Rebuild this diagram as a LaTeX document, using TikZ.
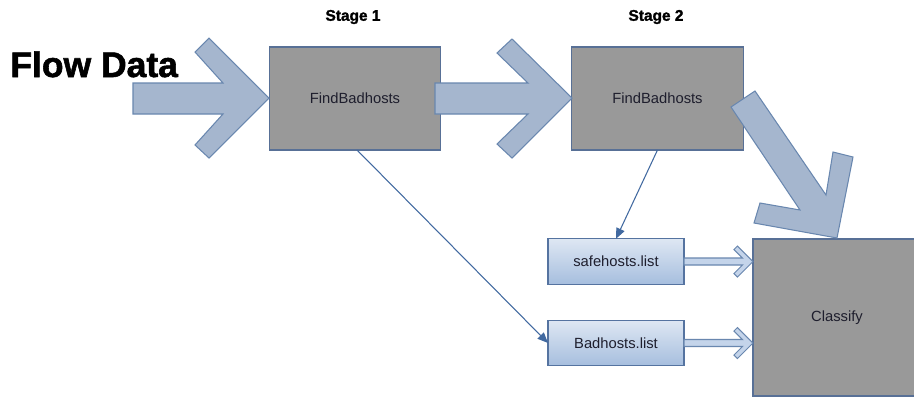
\documentclass[tikz,border=0pt]{standalone}
\usepackage{fontspec}
\setmainfont{Liberation Sans}
\newfontfamily\heavyfont{Liberation Sans Bold}[FakeBold=1.6]
\usetikzlibrary{arrows.meta}
\definecolor{boxgray}{RGB}{153,153,153}
\definecolor{boxedge}{RGB}{88,112,150}
\definecolor{bigfill}{RGB}{165,182,206}
\definecolor{bigedge}{RGB}{105,135,175}
\definecolor{listtop}{RGB}{222,231,243}
\definecolor{listbot}{RGB}{166,190,222}
\definecolor{listedge}{RGB}{85,115,160}
\definecolor{thinline}{RGB}{65,105,160}
\definecolor{hollowfill}{RGB}{196,212,234}
\definecolor{txt}{RGB}{30,30,45}
\tikzset{
  procbox/.style={draw=boxedge, fill=boxgray, line width=0.7pt, inner sep=0pt, outer sep=0pt,
    minimum width=3.43cm, minimum height=2.06cm, text=txt, font=\fontsize{8.4}{10}\selectfont},
  listbox/.style={draw=listedge, top color=listtop, bottom color=listbot, line width=0.7pt,
    inner sep=0pt, outer sep=0pt, minimum width=2.72cm, minimum height=0.91cm, text=txt,
    font=\fontsize{8.4}{10}\selectfont},
  bigarrow/.style={draw=bigedge, fill=bigfill, line width=0.6pt, line join=miter},
  thinarrow/.style={draw=thinline, line width=0.6pt, -{Triangle[length=6pt,width=5pt]}},
  hollowstyle/.style={draw=bigedge, fill=hollowfill, line width=0.6pt},
  hollow/.pic={\path[hollowstyle] (0,-3.5) -- (58.5,-3.5) -- (50,-12) -- (53.5,-15.5) -- (69,0)
     -- (53.5,15.5) -- (50,12) -- (58.5,3.5) -- (0,3.5) -- cycle;},
  stagelabel/.style={font=\heavyfont\fontsize{8.8}{11}\selectfont, inner sep=0pt}
}
\begin{document}
\begin{tikzpicture}[x=0.02cm, y=-0.02cm]
\useasboundingbox (0,0) rectangle (914,397);
\fill[white] (0,0) rectangle (914,397);
\begin{scope}
\clip (0,0) rectangle (914,397);
% nodes
\node[procbox] (b1) at (355,98.5) {FindBadhosts};
\node[procbox] (b2) at (657.5,98.5) {FindBadhosts};
\node[procbox, minimum width=3.36cm, minimum height=3.14cm] (cls) at (837,317.5) {Classify};
\node[listbox] (safe) at (616,261.5) {safehosts.list};
\node[listbox] (bad) at (616,343) {Badhosts.list};
% labels
\node[font=\heavyfont\fontsize{20.2}{24}\selectfont, inner sep=0pt, anchor=base west] (flow) at (10,77) {Flow Data};
\node[stagelabel] (s1) at (353,17) {Stage 1};
\node[stagelabel] (s2) at (656,17) {Stage 2};
% big arrows
\path[bigarrow] (133,83) -- (223,83) -- (195,52) -- (209,38) -- (269,98) -- (209,158)
   -- (195,145) -- (223,114) -- (133,114) -- cycle;
\path[bigarrow] (435,83) -- (528,83) -- (497,53) -- (512,39) -- (572,98) -- (512,158)
   -- (497,144) -- (528,114) -- (435,114) -- cycle;
\path[bigarrow] (755,91) -- (826,195) -- (833,152) -- (853,157) -- (837,238) -- (754,223)
   -- (760,203) -- (800,210) -- (731,107) -- cycle;
% thin arrows
\draw[thinarrow] (b1.south) ++(2,0) -- (bad.west);
\draw[thinarrow] (b2.south) -- (safe.north);
% hollow arrows
\pic at (safe.east) {hollow};
\pic at (bad.east) {hollow};
\end{scope}
\end{tikzpicture}
\end{document}
